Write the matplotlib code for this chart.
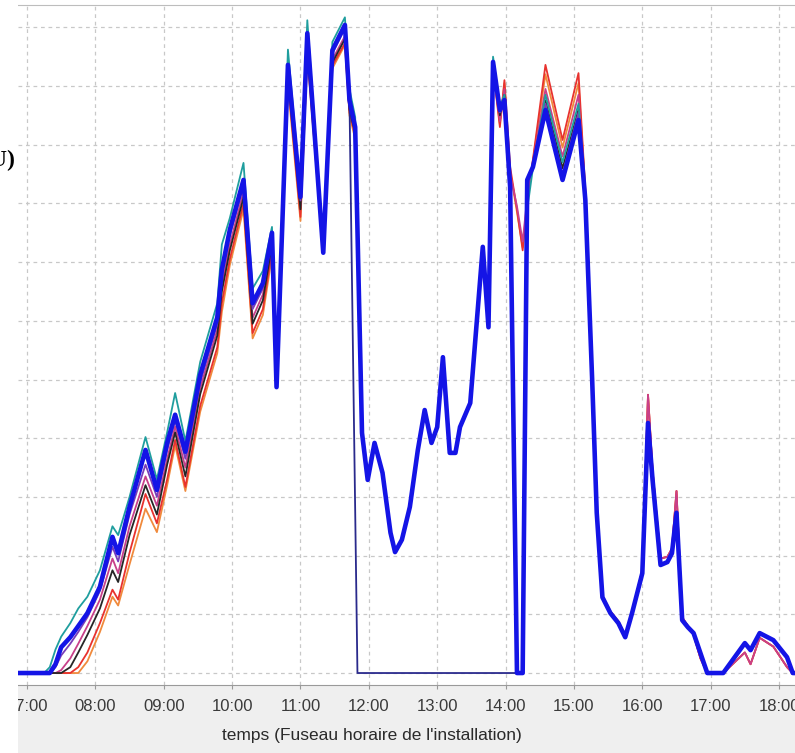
import matplotlib
matplotlib.use("Agg")
import matplotlib.pyplot as plt
from matplotlib.patches import Rectangle

plt.rcParams['font.family'] = ['Liberation Sans', 'DejaVu Sans']

# Heures de mesure (matin, valeurs différentes pour chaque onduleur)
heures_matin = ["06:50", "07:15", "07:20", "07:25", "07:30", "07:38", "07:45", "07:53",
                "08:04", "08:15", "08:20", "08:30", "08:44", "08:54", "09:03", "09:10",
                "09:19", "09:32", "09:47", "09:51", "09:58", "10:10", "10:18", "10:27",
                "10:35", "10:39", "10:49", "11:00", "11:06", "11:20", "11:28", "11:39",
                "11:43", "11:48"]

bleu_matin = [0, 0, 0, 0.15, 0.44, 0.61, 0.80, 1.02, 1.47, 2.32, 2.04, 2.83, 3.80, 3.12,
              3.92, 4.40, 3.77, 5.08, 6.06, 6.87, 7.55, 8.40, 6.30, 6.64, 7.50,
              4.87, 10.36, 8.11, 10.90, 7.16, 10.61, 11.04, 9.76, 9.30]
turquoise_matin = [0, 0, 0.10, 0.40, 0.62, 0.85, 1.10, 1.30, 1.75, 2.50, 2.35, 3.00, 4.02, 3.30,
                   4.10, 4.77, 3.95, 5.30, 6.30, 7.30, 7.75, 8.69, 6.55, 6.85, 7.60,
                   4.87, 10.62, 8.20, 11.12, 7.16, 10.75, 11.17, 9.95, 9.47]
violet_matin = [0, 0, 0, 0.10, 0.30, 0.50, 0.70, 0.95, 1.40, 2.15, 1.90, 2.70, 3.55, 3.00,
                3.80, 4.30, 3.65, 4.95, 5.95, 6.75, 7.45, 8.30, 6.20, 6.55, 7.40,
                4.87, 10.30, 8.05, 10.85, 7.16, 10.55, 10.98, 9.70, 9.28]
magenta_matin = [0, 0, 0, 0, 0.05, 0.25, 0.50, 0.80, 1.25, 1.95, 1.70, 2.50, 3.35, 2.85,
                 3.65, 4.20, 3.50, 4.85, 5.85, 6.60, 7.30, 8.20, 6.05, 6.45, 7.35,
                 4.87, 10.22, 7.95, 10.70, 7.16, 10.45, 10.85, 9.62, 9.22]
noir_matin = [0, 0, 0, 0, 0, 0.10, 0.35, 0.65, 1.10, 1.75, 1.55, 2.35, 3.20, 2.70,
              3.55, 4.10, 3.35, 4.75, 5.75, 6.50, 7.20, 8.10, 5.95, 6.35, 7.30,
              4.87, 10.18, 7.90, 10.65, 7.16, 10.40, 10.80, 9.60, 9.20]
rouge_matin = [0, 0, 0, 0, 0, 0, 0.10, 0.35, 0.85, 1.42, 1.25, 2.05, 3.05, 2.55,
               3.30, 3.97, 3.17, 4.55, 5.55, 6.30, 7.05, 8.00, 5.79, 6.20, 7.20,
               4.87, 10.10, 7.77, 10.55, 7.16, 10.35, 10.73, 9.55, 9.16]
orange_matin = [0, 0, 0, 0, 0, 0, 0, 0.20, 0.70, 1.30, 1.15, 1.85, 2.80, 2.40,
                3.20, 3.88, 3.10, 4.45, 5.45, 6.15, 6.95, 7.90, 5.70, 6.10, 7.10,
                4.87, 10.00, 7.70, 10.50, 7.16, 10.30, 10.70, 9.50, 9.10]

# Midi : toutes les courbes confondues
heures_midi = ["11:54", "11:59", "12:05", "12:12", "12:19", "12:23", "12:29", "12:36",
               "12:43", "12:49", "12:55", "13:00", "13:05", "13:11", "13:16", "13:20",
               "13:29", "13:40", "13:45"]
valeurs_midi = [4.09, 3.29, 3.92, 3.41, 2.39, 2.06, 2.27, 2.83, 3.80, 4.48, 3.92, 4.19,
                5.38, 3.75, 3.75, 4.19, 4.60, 7.26, 5.89]

# Après-midi
heures_apm = ["13:49", "13:55", "13:59", "14:04", "14:10", "14:15", "14:19", "14:24",
              "14:35", "14:50", "15:04", "15:10"]
bleu_apm = [10.41, 9.59, 9.76, 8.28, 0, 0, 8.40, 8.62, 9.59, 8.40, 9.42, 8.06]
turquoise_apm = [10.50, 9.65, 9.85, 8.35, 0, 0, 7.90, 8.60, 9.85, 8.70, 9.70, 8.15]
violet_apm = [10.38, 9.55, 9.80, 8.30, 0, 0, 8.30, 8.62, 9.70, 8.50, 9.55, 8.10]
noir_apm = [10.38, 9.50, 9.85, 8.35, 0, 0, 8.35, 8.65, 9.75, 8.60, 9.60, 8.12]
magenta_apm = [10.35, 9.40, 9.95, 8.50, 7.95, 7.35, 8.10, 8.70, 9.95, 8.80, 9.85, 8.18]
rouge_apm = [10.30, 9.30, 10.10, 8.62, 7.90, 7.20, 8.00, 8.75, 10.36, 9.08, 10.22, 8.23]
orange_apm = [10.30, 9.35, 10.05, 8.55, 7.85, 7.25, 8.05, 8.72, 10.20, 8.95, 10.05, 8.20]

# Soir
heures_soir = ["15:16", "15:20", "15:25", "15:32", "15:39", "15:45", "15:51", "16:00",
               "16:05", "16:09", "16:16", "16:22", "16:26", "16:30", "16:35", "16:40",
               "16:45", "16:51", "16:57", "17:11", "17:30", "17:35", "17:43", "17:55",
               "18:07", "18:12", "18:30"]
bleu_soir = [4.99, 2.73, 1.29, 1.02, 0.85, 0.61, 1.02, 1.70, 4.26, 3.29, 1.84, 1.89,
             2.04, 2.73, 0.90, 0.78, 0.68, 0.34, 0, 0, 0.51, 0.39, 0.68, 0.56, 0.27, 0, 0]
rouge_soir = [5.05, 2.78, 1.32, 1.05, 0.88, 0.64, 1.05, 1.75, 4.74, 3.45, 1.95, 1.98,
              2.12, 3.10, 0.95, 0.80, 0.65, 0.25, 0, 0, 0.35, 0.15, 0.60, 0.45, 0.10, 0, 0]

# Courbe coupée (à zéro entre 11:50 et 14:15)
heures_coupure = ["11:50", "14:15"]
valeurs_coupure = [0, 0]

heures_ticks = ["07:00", "08:00", "09:00", "10:00", "11:00", "12:00", "13:00",
                "14:00", "15:00", "16:00", "17:00", "18:00"]


def minutes(h):
    hh, mm = h.split(":")
    return int(hh) * 60 + int(mm)


heures_jour = heures_matin + heures_midi + heures_apm + heures_soir
series = [
    ("#f08a3c", orange_matin + valeurs_midi + orange_apm + rouge_soir),
    ("#e8322e", rouge_matin + valeurs_midi + rouge_apm + rouge_soir),
    ("#c8408a", magenta_matin + valeurs_midi + magenta_apm + rouge_soir),
    ("#262626", noir_matin + valeurs_midi + noir_apm + bleu_soir),
    ("#7a3db8", violet_matin + valeurs_midi + violet_apm + bleu_soir),
    ("#1f9e9e", turquoise_matin + valeurs_midi + turquoise_apm + bleu_soir),
]

fig = plt.figure(figsize=(7.95, 7.53), dpi=100)
W, H = 795, 753
# bande grise sous le graphique
fig.add_artist(Rectangle((18 / W, 0), 1 - 18 / W, 68 / H, transform=fig.transFigure,
                         facecolor="#efefef", edgecolor="none", zorder=-5))

ax = fig.add_axes([18 / W, 68 / H, 1 - 18 / W, (753 - 68 - 5) / H])

for couleur, valeurs in series:
    ax.plot([minutes(h) for h in heures_jour], valeurs, color=couleur, lw=1.3, zorder=3)

# courbe fine avec coupure
x_fin = heures_matin[:-1] + heures_coupure + heures_apm[6:] + heures_soir
y_fin = bleu_matin[:-1] + valeurs_coupure + bleu_apm[6:] + bleu_soir
ax.plot([minutes(h) for h in x_fin], y_fin, color="#2a2a8c", lw=1.3, zorder=4)

# courbe principale épaisse
ax.plot([minutes(h) for h in heures_jour], bleu_matin + valeurs_midi + bleu_apm + bleu_soir,
        color="#1414e6", lw=3.3, zorder=5, solid_joinstyle="round")

ax.set_xlim(412.1, 1094)
ax.set_ylim(-0.204, 11.38)
ax.set_xticks([minutes(h) for h in heures_ticks])
ax.set_xticklabels(heures_ticks)
ax.set_yticks(range(0, 12))
ax.set_yticklabels([])
ax.tick_params(axis="y", length=0)
ax.tick_params(axis="x", length=3, color="#999999", labelsize=12, labelcolor="#3a3a3a", pad=7)
ax.grid(True, color="#c8c8c8", linestyle=(0, (3, 3)), linewidth=0.9)
ax.set_axisbelow(True)
for s in ["left", "right"]:
    ax.spines[s].set_visible(False)
ax.spines["top"].set_color("#bdbdbd")
ax.spines["bottom"].set_color("#9a9a9a")

ax.set_xlabel("temps (Fuseau horaire de l'installation)", fontsize=12.5, color="#2a2a2a")
ax.xaxis.set_label_coords((371.5 - 18) / (W - 18), -0.063)

# marge blanche à gauche (coupe le libellé 07:00)
fig.add_artist(Rectangle((0, 0), 18 / W, 1, transform=fig.transFigure,
                         facecolor="white", edgecolor="none", zorder=20))
fig.text(15 / W, 1 - 160 / H, "(U)", ha="right", va="center", fontsize=17,
         fontweight="bold", family=["Liberation Serif", "DejaVu Serif"], zorder=21)

fig.savefig("out.png", dpi=100)
